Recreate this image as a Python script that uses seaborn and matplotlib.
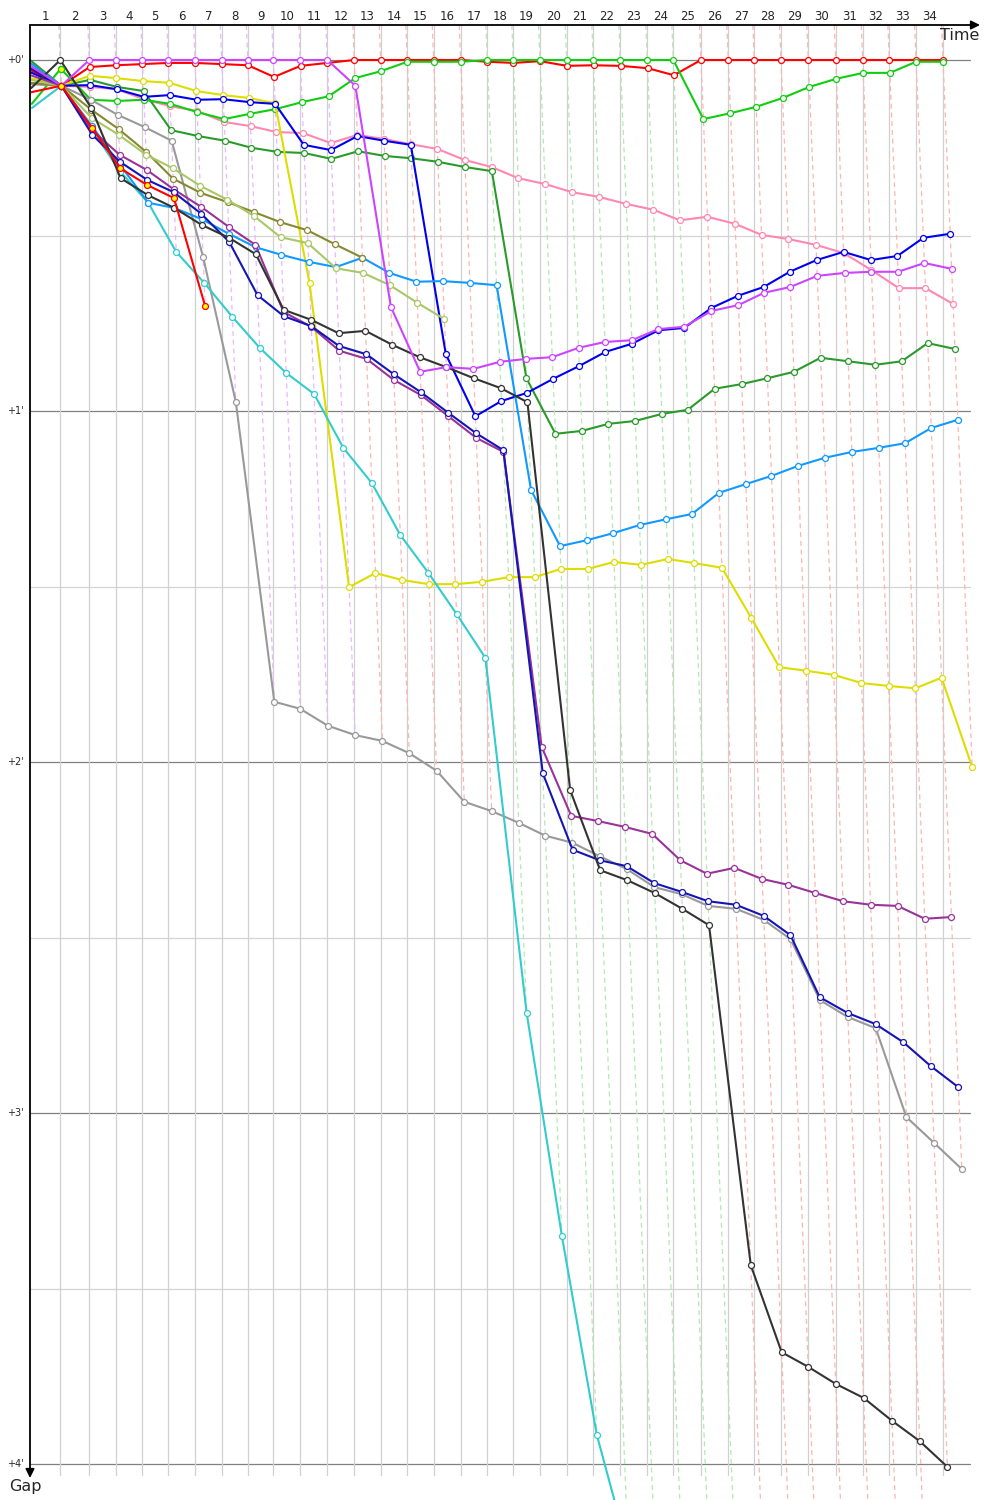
import numpy as np
import matplotlib
matplotlib.use("Agg")
import matplotlib.pyplot as plt
import seaborn as sns

sns.set_theme(style="white")
plt.rcParams['font.family'] = ['DejaVu Sans']

# leader lap times in seconds, laps 1..34
leader_laps = [125.4, 120.0, 109.2, 110.1, 107.6, 110.5, 110.5, 108.0, 105.5, 111.7,
               111.7, 111.7, 109.2, 110.1, 109.2, 111.7, 110.1, 107.6, 110.5, 110.5,
               110.1, 111.7, 111.7, 107.6, 114.6, 113.0, 107.6, 110.5, 113.0, 113.4,
               111.7, 110.1, 110.5, 111.7]

# lap line category per lap (1..34)
lap_phase = ['grid'] + ['p'] * 10 + ['r'] * 5 + ['g'] * 8 + ['r'] * 10

# gaps to leader in seconds, from start (lap 0) to last completed lap
gap_red = [1.7, 4.4, 1.2, 0.9, 0.7, 0.5, 0.5, 0.7, 0.9, 2.9, 1.0, 0.5, 0, 0, 0, 0, 0,
           0.3, 0.5, 0.2, 1.0, 0.9, 1.0, 1.4, 2.6, 0, 0, 0, 0, 0, 0, 0, 0, 0, 0]
gap_lime = [7.5, 1.5, 6.8, 7.0, 6.8, 7.5, 8.9, 10.1, 9.2, 8.4, 7.2, 6.2, 3.1, 1.9, 0.3, 0.3, 0.3,
            0, 0, 0, 0, 0, 0, 0, 0, 10.1, 9.1, 8.0, 6.5, 4.6, 3.2, 2.2, 2.2, 0.3, 0.3]
gap_violet = [1.0, 4.4, 0, 0, 0, 0, 0, 0, 0, 0, 0, 0, 4.4, 42.2, 53.3, 52.5, 52.8, 51.6, 51.1,
              50.8, 49.2, 48.2, 47.9, 46.0, 45.6, 42.9, 41.9, 39.8, 38.8, 36.9, 36.4, 36.2,
              36.2, 34.7, 35.7]
gap_yellow = [3.1, 4.4, 2.7, 3.1, 3.6, 3.9, 5.3, 6.0, 6.5, 7.4, 38.1, 90.1, 87.7, 88.9, 89.6,
              89.6, 89.2, 88.4, 88.4, 87.0, 87.0, 85.8, 86.3, 85.3, 86.0, 86.8, 95.4, 103.8,
              104.4, 105.1, 106.5, 107.0, 107.4, 105.6, 120.9]
gap_pink = [4.1, 4.4, 4.6, 5.0, 6.7, 7.9, 8.7, 10.6, 11.3, 12.3, 12.5, 14.2, 12.8, 13.5, 14.4,
            15.2, 17.1, 18.3, 20.2, 21.2, 22.6, 23.4, 24.6, 25.6, 27.4, 26.8, 28.0, 29.9, 30.6,
            31.6, 33.0, 35.9, 39.0, 39.0, 41.7]
gap_blue = [2.1, 4.4, 4.3, 5.0, 6.3, 6.0, 6.8, 6.7, 7.2, 7.5, 14.5, 15.4, 13.0, 13.8, 14.5,
            50.3, 60.9, 58.3, 56.9, 54.5, 52.3, 49.9, 48.5, 46.2, 45.8, 42.4, 40.3, 38.8,
            36.2, 34.2, 32.8, 34.2, 33.5, 30.4, 29.7]
gap_green = [0.0, 4.4, 3.4, 4.6, 5.3, 12.0, 13.0, 13.8, 15.0, 15.7, 15.9, 16.9, 15.6, 16.4,
             16.8, 17.4, 18.3, 19.0, 54.4, 63.9, 63.4, 62.2, 61.7, 60.5, 59.8, 56.2, 55.4,
             54.4, 53.3, 50.9, 51.5, 52.1, 51.5, 48.4, 49.4]
gap_grey = [4.1, 4.4, 6.8, 9.4, 11.5, 13.8, 33.7, 58.5, 109.7, 110.9, 113.8, 115.4, 116.4,
            118.5, 121.5, 126.8, 128.4, 130.4, 132.6, 133.8, 136.1, 138.3, 141.4, 142.6,
            144.6, 145.1, 147.0, 150.3, 160.7, 163.6, 165.5, 180.7, 185.1, 189.6]
gap_teal = [8.2, 4.4, 12.0, 19.1, 24.4, 32.8, 38.1, 43.9, 49.2, 53.5, 57.1, 66.3, 72.3, 81.2,
            87.7, 94.7, 102.2, 162.9, 201.0, 235.0, 255, 262, 268, 275, 282, 290, 297, 304,
            311, 318, 326, 333]
gap_sky = [0.5, 4.4, 11.3, 17.9, 24.4, 25.3, 27.2, 29.7, 32.0, 33.3, 34.5, 35.4, 33.8, 36.4,
           37.9, 37.8, 38.1, 38.5, 73.5, 83.1, 82.1, 80.9, 79.5, 78.5, 77.6, 74.0, 72.5,
           71.1, 69.4, 68.0, 67.0, 66.3, 65.5, 62.9, 61.5]
gap_olive = [3.9, 4.4, 8.5, 11.8, 15.7, 20.3, 22.7, 24.3, 26.0, 27.7, 29.1, 31.5, 33.8]
gap_khaki = [3.4, 4.4, 9.9, 12.8, 16.2, 18.5, 21.5, 23.9, 26.7, 30.3, 31.3, 35.6, 36.4, 38.5,
             41.5, 44.3]
gap_black = [4.8, 0.0, 8.2, 20.2, 23.1, 25.3, 28.2, 30.4, 33.2, 42.7, 44.4, 46.7, 46.3, 48.7,
             50.8, 52.5, 54.4, 56.1, 58.5, 124.8, 138.5, 140.2, 142.4, 145.1, 147.9, 206.0,
             220.9, 223.4, 226.3, 228.7, 232.6, 236.1, 240.5]
gap_navy = [1.4, 4.4, 12.8, 17.4, 20.5, 22.6, 26.3, 31.1, 40.2, 43.8, 45.5, 48.9, 50.3, 53.7,
            56.8, 60.3, 63.8, 66.7, 121.9, 135.0, 136.8, 137.8, 140.7, 142.2, 143.8, 144.4,
            146.3, 149.6, 160.2, 162.9, 164.8, 167.9, 172.0, 175.6]
gap_purple = [2.6, 4.4, 12.0, 16.2, 18.8, 22.1, 25.1, 28.5, 31.6, 43.1, 45.6, 49.7, 51.1, 54.7,
              57.3, 60.9, 64.6, 67.0, 117.4, 129.2, 130.1, 131.1, 132.3, 136.8, 139.1, 138.1,
              140.0, 141.0, 142.4, 143.8, 144.4, 144.6, 146.8, 146.5]
gap_retired = [5.5, 4.4, 11.6, 18.5, 21.4, 23.6, 42.1]

cars = [
    (gap_red, '#ff0000', 'white'),
    (gap_pink, '#ff88b0', 'white'),
    (gap_green, '#2a9a2a', 'white'),
    (gap_lime, '#11cc11', 'white'),
    (gap_yellow, '#dddd00', 'white'),
    (gap_blue, '#0000ee', 'white'),
    (gap_grey, '#999999', 'white'),
    (gap_teal, '#33cccc', 'white'),
    (gap_sky, '#1199ff', 'white'),
    (gap_olive, '#888833', 'white'),
    (gap_khaki, '#a8c866', 'white'),
    (gap_purple, '#993399', 'white'),
    (gap_navy, '#1515b5', 'white'),
    (gap_black, '#333333', 'white'),
    (gap_violet, '#cc44ff', 'white'),
    (gap_retired, '#ff0000', '#ffff00'),
]

phase_colors = {'grid': '#c8c8c8', 'p': '#e9b8ff', 'r': '#ffb4b4', 'g': '#b4e8b4'}

# pixel layout of the 1000x1500 canvas
X0, Y0 = 30, 60
XS, YS = 14.5 / 60, 351 / 60   # px per second


def gx(px):
    return (px - X0) / XS


def gy(py):
    return (py - Y0) / YS


T = np.concatenate([[0], np.cumsum(leader_laps)])

fig = plt.figure(figsize=(10, 15), dpi=100)
ax = fig.add_axes([0, 0, 1, 1])
ax.set_axis_off()
ax.set_xlim(gx(0), gx(1000))
ax.set_ylim(gy(1500), gy(0))

# horizontal gap grid
for m in range(0, 241, 30):
    ax.plot([0, gx(970)], [m, m], color='#808080' if m % 60 == 0 else '#d4d4d4',
            lw=0.9, zorder=1)
    if m % 60 == 0:
        ax.text(gx(15), m, f"+{m // 60}'", fontsize=7, ha='center', va='center')

# leader lap lines and lap numbers
for k in range(1, len(T)):
    ax.plot([T[k], T[k]], [gy(25), gy(1475)], color='#d0d0d0', lw=0.9, zorder=1)
    ax.text((T[k - 1] + T[k]) / 2, gy(16), str(k), fontsize=8.5, ha='center', va='center')

# slanted lap lines, from the leader to the last car on that lap
for k in range(1, len(T)):
    gmax = max(g[k] for g, _, _ in cars if len(g) > k)
    top = gy(25)
    ax.plot([T[k] + top, T[k] + gmax], [top, gmax], color=phase_colors[lap_phase[k - 1]],
            lw=0.9, ls=(0, (4, 3)), zorder=2)

# car traces
for g, col, fill in cars:
    g = np.array(g, dtype=float)
    x = T[:len(g)] + g
    sns.lineplot(x=x, y=g, sort=False, estimator=None, errorbar=None, ax=ax,
                 color=col, lw=1.5, marker='o', markersize=4.3, markevery=list(range(1, len(g))),
                 markerfacecolor=fill, markeredgecolor=col, markeredgewidth=0.9,
                 zorder=3, legend=False)

# lime car lap 1 highlighted
ax.plot(T[1] + gap_lime[1], gap_lime[1], marker='o', markersize=4.3, color='#11cc11',
        markerfacecolor='#ffff00', markeredgewidth=0.9, zorder=4)

# axes with arrows
arrow = dict(arrowstyle='-|>', color='black', lw=1.3, mutation_scale=13, shrinkA=0, shrinkB=0)
ax.annotate('', xy=(gx(980), gy(25)), xytext=(gx(30), gy(25)), arrowprops=arrow, zorder=5)
ax.annotate('', xy=(gx(30), gy(1478)), xytext=(gx(30), gy(25)), arrowprops=arrow, zorder=5)
ax.text(gx(960), gy(35), 'Time', fontsize=11.5, ha='center', va='center')
ax.text(gx(25), gy(1486), 'Gap', fontsize=11.5, ha='center', va='center')

fig.savefig('out.png', dpi=100)
